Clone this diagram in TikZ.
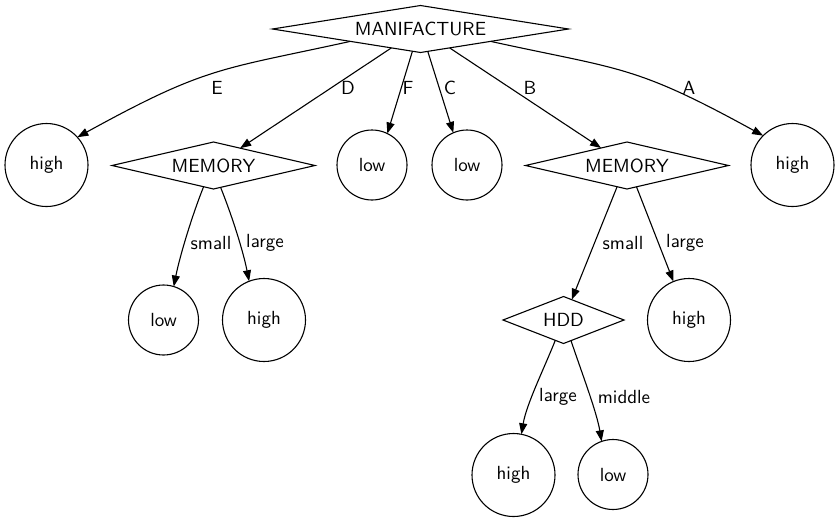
\documentclass[tikz,border=0pt]{standalone}
\usepackage{fontspec}
\setsansfont{lmsans10-regular}[Extension=.otf]
\usetikzlibrary{shapes.geometric,arrows.meta}
\tikzset{
  dnode/.style={draw, shape=diamond, inner sep=0pt, outer sep=0pt, line width=1.1pt, minimum height=47pt},
  cnode/.style={draw, circle, inner sep=0pt, outer sep=0pt, line width=1.1pt},
  hinode/.style={cnode, minimum size=83pt},
  lonode/.style={cnode, minimum size=70pt},
  edgeline/.style={line width=1.1pt, -{Triangle[length=11pt,width=8pt]}},
  lbl/.style={inner sep=0pt}
}
\begin{document}
\begin{tikzpicture}[x=1pt,y=1pt,font=\sffamily\fontsize{19pt}{23pt}\selectfont]
\path[use as bounding box] (0,0) rectangle (840,-523);
% nodes
\node[dnode, minimum width=296pt, shape aspect=6.3] (m) at (420.5,-29) {MANIFACTURE};
\node[hinode] (he) at (46.5,-165) {high};
\node[dnode, minimum width=203pt, shape aspect=4.3] (mem1) at (213.5,-165.5) {MEMORY};
\node[lonode] (lowF) at (372,-165) {low};
\node[lonode] (lowC) at (467,-165) {low};
\node[dnode, minimum width=203pt, shape aspect=4.3] (mem2) at (627,-165.5) {MEMORY};
\node[hinode] (hA) at (792.5,-165) {high};
\node[lonode] (low1) at (163.5,-320) {low};
\node[hinode] (high1) at (264,-320) {high};
\node[dnode, minimum width=121pt, shape aspect=2.6] (hdd) at (563.5,-320) {HDD};
\node[hinode] (high2) at (689,-320) {high};
\node[hinode] (high3) at (513.5,-475) {high};
\node[lonode] (low3) at (613,-474.5) {low};
% edges
\draw[edgeline] (m.190) .. controls +(-130,-28.6) and +(130,71.5) .. (he.42);
\draw[edgeline] (m.213) -- (mem1.33);
\draw[edgeline] (m.250) -- (lowF.64);
\draw[edgeline] (m.288) -- (lowC.113);
\draw[edgeline] (m.327) -- (mem2.146);
\draw[edgeline] (m.350) .. controls +(130,-28.6) and +(-130,71.5) .. (hA.135);
\draw[edgeline] (mem1.245) .. controls +(-12,-30) and +(6,30) .. (low1.73);
\draw[edgeline] (mem1.288) .. controls +(12,-30) and +(-6,30) .. (high1.111);
\draw[edgeline] (mem2.245) -- (hdd.68);
\draw[edgeline] (mem2.294) -- (high2.112);
\draw[edgeline] (hdd.248) .. controls +(-12,-30) and +(5,30) .. (high3.79);
\draw[edgeline] (hdd.290) .. controls +(10,-30) and +(-5,30) .. (low3.109);
% labels
\node[lbl] (lE) at (217,-88) {E};
\node[lbl] (lD) at (348,-88) {D};
\node[lbl] (lF) at (408,-88) {F};
\node[lbl] (lC) at (450,-88) {C};
\node[lbl] (lB) at (530,-88) {B};
\node[lbl] (lA) at (689,-88) {A};
\node[lbl] (ls1) at (211,-243) {small};
\node[lbl] (ll1) at (265,-243) {large};
\node[lbl] (ls2) at (623,-243) {small};
\node[lbl] (ll2) at (685,-243) {large};
\node[lbl] (ll3) at (558,-397) {large};
\node[lbl] (lm3) at (624,-397) {middle};
\end{tikzpicture}
\end{document}
